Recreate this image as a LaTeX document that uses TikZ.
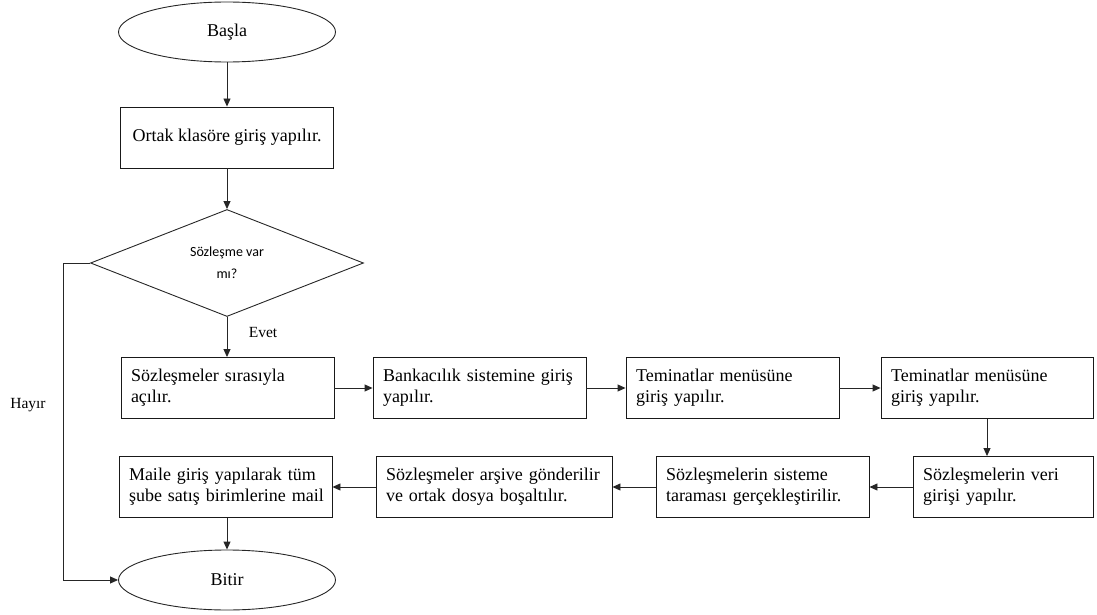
\documentclass[tikz,border=0pt]{standalone}
\usepackage{fontspec}
\setmainfont{Liberation Serif}
\newfontfamily\calibrifont{Carlito}
\usetikzlibrary{shapes.geometric,arrows.meta}

\tikzset{
  terminal/.style={draw=black!85, line width=0.9pt, ellipse, minimum width=217pt,
    minimum height=60pt, inner sep=0pt, font=\fontsize{18}{21}\selectfont},
  procbox/.style={draw=black!90, line width=0.9pt, rectangle, minimum height=61pt,
    inner xsep=10pt, inner ysep=0pt, align=left, font=\fontsize{18}{21}\selectfont},
  decision/.style={draw=black!85, line width=0.9pt, diamond, minimum width=273pt,
    minimum height=107pt, inner sep=0pt, align=center,
    font=\calibrifont\fontsize{14}{22}\selectfont},
  flow/.style={draw=black!85, line width=0.9pt, -{Triangle[length=8pt,width=7pt]}},
  note/.style={font=\fontsize{15.5}{18}\selectfont, inner sep=0pt}
}

\begin{document}
\begin{tikzpicture}[x=1pt,y=-1pt]
  \useasboundingbox (0,0) rectangle (1097,615);

  % start and end
  \node[terminal] (start) at (227,32) {Başla};
  \node[terminal] (stop) at (227,580) {Bitir};

  % opening step and decision
  \node[procbox, minimum width=213pt, align=center] (open) at (227,137.5) {Ortak klasöre giriş yapılır.};
  \node[decision] (check) at (227,263) {\raisebox{-4pt}{\shortstack{Sözleşme var\\[7pt]mı?}}};

  % first row of steps
  \node[procbox, minimum width=213pt, text width=193pt] (s1) at (227.5,388)
    {Sözleşmeler sırasıyla\\açılır.};
  \node[procbox, minimum width=213pt, text width=193pt] (s2) at (479.5,388)
    {Bankacılık sistemine giriş\\yapılır.};
  \node[procbox, minimum width=213pt, text width=193pt] (s3) at (732.5,388)
    {Teminatlar menüsüne\\giriş yapılır.};
  \node[procbox, minimum width=212pt, text width=192pt] (s4) at (987,388)
    {Teminatlar menüsüne\\giriş yapılır.};

  % second row of steps
  \node[procbox, minimum width=180pt, text width=160pt] (s5) at (1003,487)
    {Sözleşmelerin veri\\girişi yapılır.};
  \node[procbox, minimum width=213pt, text width=193pt] (s6) at (762.5,487)
    {Sözleşmelerin sisteme\\taraması gerçekleştirilir.};
  \node[procbox, minimum width=236pt, text width=216pt] (s7) at (494,487)
    {\mbox{Sözleşmeler arşive gönderilir}\\ve ortak dosya boşaltılır.};
  \node[procbox, minimum width=213pt, text width=193pt] (s8) at (225.5,487)
    {\mbox{Maile giriş yapılarak tüm}\\\mbox{şube satış birimlerine mail}};

  % branch labels
  \node[note] (yes) at (263,332) {Evet};
  \node[note] (no) at (28,405) {Hayır};

  % corner points of the "no" branch
  \coordinate (nTop) at (63,263);
  \coordinate (nBot) at (63,580);

  % connectors
  \draw[flow] (start) -- (open);
  \draw[flow] (open) -- (check.north);
  \draw[flow] (check.south) -- (check.south |- s1.north);
  \draw[flow] (s1) -- (s2);
  \draw[flow] (s2) -- (s3);
  \draw[flow] (s3) -- (s4);
  \draw[flow] (s4.south) -- (s4.south |- s5.north);
  \draw[flow] (s5) -- (s6);
  \draw[flow] (s6) -- (s7);
  \draw[flow] (s7) -- (s8);
  \draw[flow] (stop.north |- s8.south) -- (stop.north);
  \draw[flow] (check.west) -- (nTop |- check.west) -- (nBot) -- (stop.west);
\end{tikzpicture}
\end{document}
